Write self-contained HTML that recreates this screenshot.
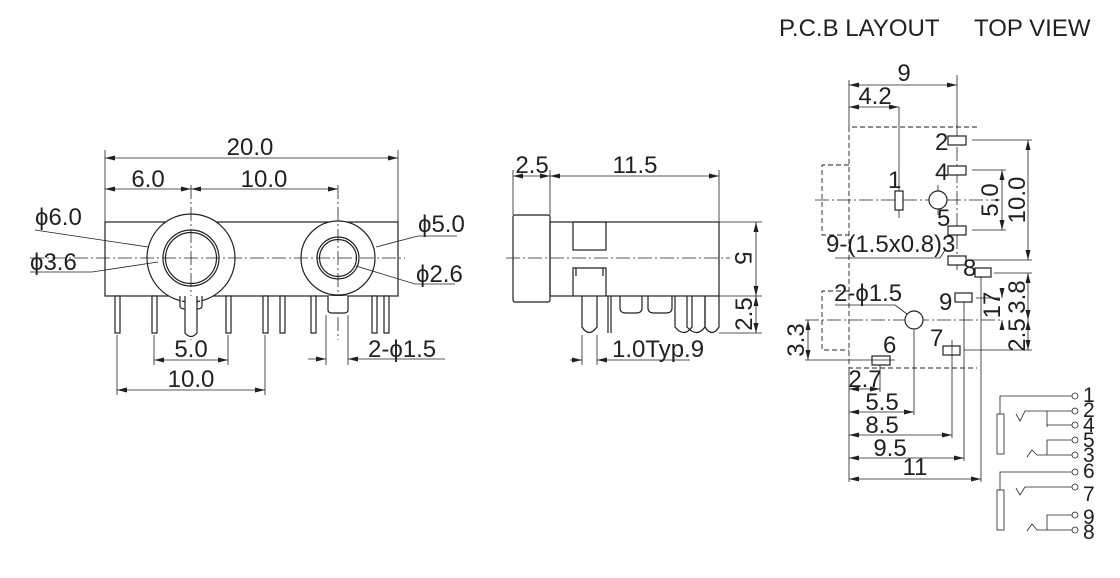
<!DOCTYPE html>
<html><head><meta charset="utf-8"><style>
html,body{margin:0;padding:0;background:#fff;}
svg{display:block;}
text{font-family:"Liberation Sans",sans-serif;fill:#231f20;}
</style></head><body>
<svg width="1120" height="578" viewBox="0 0 1120 578" xmlns="http://www.w3.org/2000/svg">
<defs>
<marker id="a" markerWidth="10" markerHeight="6" refX="10" refY="3" orient="auto-start-reverse" markerUnits="userSpaceOnUse"><path d="M0,0.5 L10,3 L0,5.5z" fill="#231f20"/></marker>
</defs>
<g stroke="#231f20" fill="none" stroke-width="1.2">
<!-- FRONT VIEW -->
<rect x="105" y="222" width="293" height="74"/>
<circle cx="191" cy="258" r="44" fill="#fff"/>
<circle cx="191" cy="258" r="28"/><circle cx="191" cy="258" r="25.5"/>
<circle cx="338" cy="258" r="37" fill="#fff"/>
<circle cx="338" cy="258" r="21"/><circle cx="338" cy="258" r="18.5"/>
<g stroke-width="0.8" stroke-dasharray="14,3,2,3">
<line x1="30" y1="258" x2="405" y2="258"/>
<line x1="191" y1="185" x2="191" y2="340"/>
<line x1="338" y1="185" x2="338" y2="340"/>
</g>
<g fill="#fff">
<rect x="115" y="296" width="5" height="37"/><rect x="152" y="296" width="5" height="37"/>
<rect x="226" y="296" width="5" height="37"/><rect x="263" y="296" width="5" height="37"/>
<rect x="280" y="296" width="5" height="37"/><rect x="311" y="296" width="5" height="37"/>
<rect x="372" y="296" width="5" height="37"/><rect x="384" y="296" width="5" height="37"/>
<path d="M185,296 V333 Q191,340 197,333 V296"/>
<path d="M180,296 V306 Q180,309 185,309 M202,296 V306 Q202,309 197,309"/>
<path d="M328,296 V310 Q328,313 332,313 H344 Q348,313 348,310 V296"/>
</g>
<g stroke-width="0.8">
<line x1="105" y1="150" x2="105" y2="222"/><line x1="398" y1="150" x2="398" y2="222"/>
<line x1="117" y1="335" x2="117" y2="395"/><line x1="154" y1="335" x2="154" y2="365"/>
<line x1="228" y1="335" x2="228" y2="365"/><line x1="265" y1="335" x2="265" y2="395"/>
<line x1="326" y1="315" x2="326" y2="365"/><line x1="348" y1="315" x2="348" y2="365"/>
<line x1="35" y1="230" x2="148" y2="247"/>
<line x1="30" y1="272" x2="92" y2="272"/><line x1="92" y1="272" x2="158" y2="262"/>
<line x1="457" y1="236" x2="418" y2="236"/><line x1="418" y1="236" x2="376" y2="247"/>
<line x1="455" y1="284" x2="415" y2="284"/><line x1="415" y1="284" x2="356" y2="266"/>
</g>
<line x1="105" y1="158" x2="398" y2="158" marker-start="url(#a)" marker-end="url(#a)" stroke-width="0.8"/>
<line x1="105" y1="189" x2="191" y2="189" marker-start="url(#a)" marker-end="url(#a)" stroke-width="0.8"/>
<line x1="191" y1="189" x2="338" y2="189" marker-start="url(#a)" marker-end="url(#a)" stroke-width="0.8"/>
<line x1="154" y1="360" x2="228" y2="360" marker-start="url(#a)" marker-end="url(#a)" stroke-width="0.8"/>
<line x1="117" y1="390" x2="265" y2="390" marker-start="url(#a)" marker-end="url(#a)" stroke-width="0.8"/>
<line x1="308" y1="359" x2="326" y2="359" marker-end="url(#a)" stroke-width="0.8"/>
<line x1="365" y1="359" x2="348" y2="359" marker-end="url(#a)" stroke-width="0.8"/>
<line x1="365" y1="359" x2="445" y2="359" stroke-width="0.8"/>

<!-- SIDE VIEW -->
<rect x="513" y="215" width="37" height="87" rx="2"/>
<rect x="550" y="222" width="169" height="74"/>
<rect x="573" y="222" width="33" height="28"/>
<path d="M573,296 V268 H606 V296 M576,268 V276 M603,268 V276"/>
<path d="M582,296 V327 Q589,338 597,327 V296"/>
<line x1="608" y1="296" x2="608" y2="333"/><line x1="611" y1="296" x2="611" y2="333"/>
<path d="M620,296 V308 Q620,313 626,313 H636 Q642,313 642,308 V296"/>
<path d="M648,296 V308 Q648,313 654,313 H666 Q672,313 672,308 V296"/>
<path d="M675,296 V327 Q684,338 692,327 V296"/>
<path d="M687,296 V327 Q697,338 705,327 V296"/>
<path d="M705,296 V327 Q712,338 719,327 V296"/>
<line x1="506" y1="258" x2="730" y2="258" stroke-width="0.8" stroke-dasharray="14,3,2,3"/>
<g stroke-width="0.8">
<line x1="513" y1="170" x2="513" y2="215"/><line x1="550" y1="170" x2="550" y2="215"/><line x1="719" y1="170" x2="719" y2="222"/>
<line x1="719" y1="222" x2="762" y2="222"/><line x1="719" y1="296" x2="762" y2="296"/><line x1="719" y1="333" x2="762" y2="333"/>
<line x1="582" y1="335" x2="582" y2="365"/><line x1="597" y1="335" x2="597" y2="365"/>
</g>
<line x1="513" y1="176" x2="550" y2="176" marker-start="url(#a)" marker-end="url(#a)" stroke-width="0.8"/>
<line x1="550" y1="176" x2="719" y2="176" marker-start="url(#a)" marker-end="url(#a)" stroke-width="0.8"/>
<line x1="756" y1="222" x2="756" y2="296" marker-start="url(#a)" marker-end="url(#a)" stroke-width="0.8"/>
<line x1="756" y1="296" x2="756" y2="333" marker-start="url(#a)" marker-end="url(#a)" stroke-width="0.8"/>
<line x1="570" y1="360" x2="582" y2="360" marker-end="url(#a)" stroke-width="0.8"/>
<line x1="610" y1="360" x2="597" y2="360" marker-end="url(#a)" stroke-width="0.8"/>
<line x1="610" y1="360" x2="690" y2="360" stroke-width="0.8"/>

<!-- PCB LAYOUT -->
<g stroke-width="0.9" stroke-dasharray="5,3">
<path d="M977,127 H849 V368 H977"/>
<path d="M849,165 H822 V235 H849"/>
<path d="M849,291 H822 V350 H849"/>
</g>
<g stroke-width="0.8" stroke-dasharray="14,3,2,3">
<line x1="815" y1="200" x2="1000" y2="200"/>
<line x1="805" y1="320" x2="1000" y2="320"/>
<line x1="957" y1="125" x2="957" y2="270"/>
<line x1="938" y1="185" x2="938" y2="215"/>
</g>
<g fill="#fff">
<rect x="948" y="136" width="18" height="9"/><rect x="948" y="166" width="18" height="9"/>
<rect x="948" y="226" width="18" height="9"/><rect x="948" y="256" width="18" height="9"/>
<rect x="895" y="191" width="8" height="19"/>
<circle cx="938" cy="200" r="9"/>
<rect x="975" y="268" width="16" height="9"/><rect x="955" y="293" width="17" height="9"/>
<circle cx="914" cy="320" r="9"/>
<rect x="943" y="346" width="17" height="9"/><rect x="872" y="356" width="18" height="9"/>
</g>
<g stroke-width="0.8">
<line x1="957" y1="75" x2="957" y2="127"/><line x1="849" y1="80" x2="849" y2="127"/>
<line x1="899" y1="107" x2="899" y2="191"/><line x1="899" y1="210" x2="899" y2="218"/>
<line x1="972" y1="140" x2="1032" y2="140"/><line x1="972" y1="170" x2="1006" y2="170"/>
<line x1="972" y1="230" x2="1006" y2="230"/><line x1="972" y1="260" x2="1032" y2="260"/>
<line x1="994" y1="273" x2="1032" y2="273"/><line x1="976" y1="298" x2="1000" y2="298"/>
<line x1="964" y1="350" x2="1032" y2="350"/>
<line x1="805" y1="360" x2="895" y2="360"/>
<line x1="835" y1="305" x2="895" y2="305"/><line x1="895" y1="305" x2="907" y2="314"/>
<line x1="835" y1="258" x2="940" y2="258"/><line x1="940" y1="258" x2="945" y2="250"/>
<line x1="849" y1="368" x2="849" y2="482"/>
<line x1="880" y1="365" x2="880" y2="392"/><line x1="914" y1="330" x2="914" y2="415"/>
<line x1="952" y1="340" x2="952" y2="438"/><line x1="964" y1="302" x2="964" y2="461"/>
<line x1="981" y1="277" x2="981" y2="482"/>
</g>
<line x1="849" y1="85" x2="957" y2="85" marker-start="url(#a)" marker-end="url(#a)" stroke-width="0.8"/>
<line x1="849" y1="107" x2="899" y2="107" marker-start="url(#a)" marker-end="url(#a)" stroke-width="0.8"/>
<line x1="1028" y1="140" x2="1028" y2="260" marker-start="url(#a)" marker-end="url(#a)" stroke-width="0.8"/>
<line x1="1002" y1="170" x2="1002" y2="230" marker-start="url(#a)" marker-end="url(#a)" stroke-width="0.8"/>
<line x1="1028" y1="273" x2="1028" y2="320" marker-start="url(#a)" marker-end="url(#a)" stroke-width="0.8"/>
<line x1="1028" y1="320" x2="1028" y2="350" marker-start="url(#a)" marker-end="url(#a)" stroke-width="0.8"/>
<line x1="1002" y1="288" x2="1002" y2="298" marker-end="url(#a)" stroke-width="0.8"/>
<line x1="1002" y1="330" x2="1002" y2="320" marker-end="url(#a)" stroke-width="0.8"/>
<line x1="808" y1="320" x2="808" y2="360" marker-start="url(#a)" marker-end="url(#a)" stroke-width="0.8"/>
<line x1="849" y1="389" x2="880" y2="389" marker-start="url(#a)" marker-end="url(#a)" stroke-width="0.8"/>
<line x1="849" y1="412" x2="914" y2="412" marker-start="url(#a)" marker-end="url(#a)" stroke-width="0.8"/>
<line x1="849" y1="435" x2="952" y2="435" marker-start="url(#a)" marker-end="url(#a)" stroke-width="0.8"/>
<line x1="849" y1="458" x2="964" y2="458" marker-start="url(#a)" marker-end="url(#a)" stroke-width="0.8"/>
<line x1="849" y1="479" x2="981" y2="479" marker-start="url(#a)" marker-end="url(#a)" stroke-width="0.8"/>

<!-- schematic -->
<g stroke-width="0.8">
<rect x="997" y="414" width="7" height="40"/><rect x="997" y="490" width="7" height="40"/>
<path d="M1000,414 V396 H1072"/><path d="M1000,490 V472 H1072"/>
<path d="M1016,414 L1020,421 L1025,411 H1072"/>
<path d="M1016,488 L1020,495 L1025,487 H1072"/>
<path d="M1047,411 V425 M1047,425 H1072 M1047,427 V421"/>
<path d="M1027,457 L1032,450 L1037,455 H1072 M1047,455 V440 H1072"/>
<path d="M1027,531 L1032,524 L1037,530 H1072 M1047,530 V515 H1072"/>
</g>
<g fill="#fff" stroke-width="0.8">
<circle cx="1075" cy="396" r="3"/><circle cx="1075" cy="411" r="3"/><circle cx="1075" cy="425" r="3"/>
<circle cx="1075" cy="440" r="3"/><circle cx="1075" cy="455" r="3"/><circle cx="1075" cy="472" r="3"/>
<circle cx="1075" cy="487" r="3"/><circle cx="1075" cy="515" r="3"/><circle cx="1075" cy="530" r="3"/>
</g>
</g>

<g font-size="24">
<text x="250" y="155" text-anchor="middle">20.0</text>
<text x="148" y="187" text-anchor="middle">6.0</text>
<text x="264" y="187" text-anchor="middle">10.0</text>
<text x="35" y="225">ϕ6.0</text>
<text x="30" y="270">ϕ3.6</text>
<text x="418" y="232">ϕ5.0</text>
<text x="416" y="282">ϕ2.6</text>
<text x="191" y="357" text-anchor="middle">5.0</text>
<text x="191" y="387" text-anchor="middle">10.0</text>
<text x="368" y="357">2-ϕ1.5</text>
<text x="532" y="173" text-anchor="middle">2.5</text>
<text x="635" y="173" text-anchor="middle">11.5</text>
<text x="612" y="357">1.0Typ.9</text>
<text transform="translate(735,258) rotate(90)" text-anchor="middle">5</text>
<text transform="translate(752,314) rotate(-90)" text-anchor="middle">2.5</text>
<text x="779" y="36">P.C.B LAYOUT</text>
<text x="974" y="36">TOP VIEW</text>
<text x="904" y="81" text-anchor="middle">9</text>
<text x="875" y="104" text-anchor="middle">4.2</text>
<text x="935" y="150">2</text><text x="935" y="180">4</text>
<text x="937" y="226">5</text>
<text x="888" y="188">1</text>
<text x="826" y="252">9-(1.5x0.8)3</text>
<text x="963" y="276">8</text>
<text x="939" y="310">9</text>
<text x="834" y="301">2-ϕ1.5</text>
<text x="930" y="346">7</text>
<text x="883" y="353">6</text>
<text transform="translate(998,200) rotate(-90)" text-anchor="middle">5.0</text>
<text transform="translate(1025,200) rotate(-90)" text-anchor="middle">10.0</text>
<text transform="translate(1025,297) rotate(-90)" text-anchor="middle">3.8</text>
<text transform="translate(1025,335) rotate(-90)" text-anchor="middle">2.5</text>
<text transform="translate(1000,305) rotate(-90)" text-anchor="middle">17</text>
<text transform="translate(804,340) rotate(-90)" text-anchor="middle">3.3</text>
<text x="865" y="387" text-anchor="middle">2.7</text>
<text x="882" y="410" text-anchor="middle">5.5</text>
<text x="882" y="433" text-anchor="middle">8.5</text>
<text x="890" y="456" text-anchor="middle">9.5</text>
<text x="915" y="475" text-anchor="middle">11</text>
</g>
<g font-size="21">
<text x="1083" y="402">1</text><text x="1083" y="417">2</text><text x="1083" y="432">4</text>
<text x="1083" y="447">5</text><text x="1083" y="462">3</text><text x="1083" y="478">6</text>
<text x="1083" y="501">7</text><text x="1083" y="524">9</text><text x="1083" y="539">8</text>
</g>
</svg>
</body></html>
